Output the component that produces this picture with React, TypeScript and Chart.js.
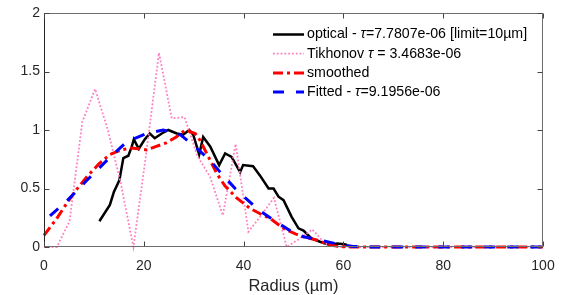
import React, { useEffect, useRef } from "react";
import { Chart, registerables } from "chart.js";

Chart.register(...registerables);

// ---------- data ----------
const opticalR = [11.1, 13.2, 14.0, 15.1, 15.9, 16.9, 17.6, 18.0, 19.0, 20.2, 21.2, 22.2, 23.6, 24.9, 26.6, 27.9, 29.1, 29.9, 31.1, 31.9, 33.3, 35.1, 36.3, 37.6, 39.3, 39.9, 41.9, 43.3, 45.0, 46.0, 47.0, 48.0, 49.6, 51.0, 52.0, 53.6, 55.3, 57.3, 58.7, 59.7, 60.7];
const opticalV = [0.22, 0.36, 0.47, 0.57, 0.76, 0.78, 0.86, 0.92, 0.84, 0.92, 0.97, 0.93, 0.97, 1.0, 0.97, 0.96, 1.0, 0.96, 0.79, 0.94, 0.86, 0.7, 0.8, 0.77, 0.64, 0.7, 0.69, 0.61, 0.5, 0.5, 0.43, 0.4, 0.26, 0.16, 0.14, 0.074, 0.045, 0.017, 0.03, 0.026, 0.02];

const tikhonovR = [0, 2.56, 5.12, 7.68, 10.24, 12.8, 15.36, 17.92, 20.48, 23.04, 25.6, 28.16, 30.72, 33.28, 35.84, 38.4, 40.96, 43.52, 46.08, 48.64, 51.2, 53.76, 56.32, 58.88, 100];
const tikhonovV = [0, 0, 0.22, 1.07, 1.35, 1.0, 0.55, 0, 0.8, 1.66, 1.1, 1.11, 0.78, 0.6, 0.27, 0.88, 0.13, 0.27, 0.42, 0, 0.07, 0.15, 0.03, 0, 0];

const smoothedR = [0, 2.5, 4.5, 6.5, 8.6, 11, 13.2, 15.5, 17.6, 20.6, 22.5, 24.5, 26.5, 28.3, 30.3, 31.3, 32.6, 34.6, 36.3, 38.6, 41.3, 43.5, 45.3, 47, 48.6, 50.5, 52, 54.6, 57.3, 59, 61, 100];
const smoothedV = [0.1, 0.24, 0.37, 0.49, 0.6, 0.71, 0.79, 0.83, 0.845, 0.83, 0.86, 0.89, 0.94, 1.0, 0.97, 0.91, 0.8, 0.63, 0.52, 0.42, 0.33, 0.28, 0.245, 0.19, 0.145, 0.11, 0.088, 0.06, 0.017, 0.005, 0, 0];

const fittedR = [1.2, 4.5, 8.6, 12.6, 16.6, 20.6, 23.9, 27.3, 29.9, 33.3, 35.3, 38.3, 42.9, 46, 49.3, 52, 55.3, 58.7, 62, 66, 100];
const fittedV = [0.265, 0.39, 0.57, 0.74, 0.9, 0.97, 1.0, 0.96, 0.87, 0.74, 0.64, 0.5, 0.32, 0.23, 0.14, 0.088, 0.06, 0.026, 0.005, 0, 0];

const xTicks = [0, 20, 40, 60, 80, 100];
const yTicks = [0, 0.5, 1, 1.5, 2];
const xTitle = "Radius (µm)";
const seriesLabels = [
  "optical - τ=7.7807e-06 [limit=10µm]",
  "Tikhonov τ = 3.4683e-06",
  "smoothed",
  "Fitted - τ=9.1956e-06",
];

const FONT = "'Liberation Sans', Arial, Helvetica, sans-serif";

function pts(r: number[], v: number[]) {
  return r.map((x, i) => ({ x, y: v[i] }));
}

export default function App() {
  const ref = useRef<HTMLCanvasElement>(null);

  useEffect(() => {
    const canvas = ref.current;
    if (!canvas) return;

    const boxPlugin = {
      id: "boxTicks",
      afterDatasetsDraw(chart: any) {
        const { ctx, chartArea } = chart;
        const xs = chart.scales.x;
        const ys = chart.scales.y;
        const L = Math.round(chartArea.left) + 0.5;
        const R = Math.round(chartArea.right) - 0.5;
        const T = Math.round(chartArea.top) + 0.5;
        const B = Math.round(chartArea.bottom) - 0.5;
        ctx.save();
        ctx.setLineDash([]);
        ctx.lineWidth = 1;
        ctx.strokeStyle = "#6e6e6e";
        ctx.beginPath();
        ctx.moveTo(L, T);
        ctx.lineTo(R, T);
        ctx.lineTo(R, B);
        ctx.lineTo(L, B);
        ctx.stroke();
        ctx.strokeStyle = "#262626";
        ctx.beginPath();
        ctx.moveTo(L, T);
        ctx.lineTo(L, B);
        ctx.stroke();
        const tl = 5;
        ctx.strokeStyle = "#444";
        ctx.beginPath();
        xTicks.forEach((t) => {
          const px = Math.round(xs.getPixelForValue(t)) + 0.5;
          ctx.moveTo(px, B);
          ctx.lineTo(px, B - tl);
          ctx.moveTo(px, T);
          ctx.lineTo(px, T + tl);
        });
        yTicks.forEach((t) => {
          const py = Math.round(ys.getPixelForValue(t)) + 0.5;
          ctx.moveTo(L, py);
          ctx.lineTo(L + tl, py);
          ctx.moveTo(R, py);
          ctx.lineTo(R - tl, py);
        });
        ctx.stroke();

        // legend
        const lx0 = 273;
        const lx1 = 304;
        const tx = 307;
        const y0 = 34.5;
        const dy = 19.2;
        chart.data.datasets.forEach((ds: any, i: number) => {
          const y = y0 + i * dy;
          ctx.save();
          ctx.strokeStyle = ds.borderColor;
          ctx.lineWidth = ds.borderWidth;
          ctx.setLineDash(ds.borderDash || []);
          ctx.beginPath();
          ctx.moveTo(lx0, y);
          ctx.lineTo(lx1, y);
          ctx.stroke();
          ctx.restore();
          ctx.fillStyle = "#000";
          ctx.textBaseline = "middle";
          ctx.textAlign = "left";
          const parts = String(seriesLabels[i]).split("τ");
          let x = tx;
          parts.forEach((p, k) => {
            if (k > 0) {
              ctx.font = `italic 14.2px ${FONT}`;
              ctx.fillText("τ", x, y);
              x += ctx.measureText("τ").width;
            }
            ctx.font = `14.2px ${FONT}`;
            ctx.fillText(p, x, y);
            x += ctx.measureText(p).width;
          });
        });
        ctx.restore();
      },
    };

    const chart = new Chart(canvas, {
      type: "line",
      data: {
        datasets: [
          {
            label: seriesLabels[0],
            data: pts(opticalR, opticalV),
            borderColor: "#000000",
            borderWidth: 2.5,
            borderDash: [],
            pointRadius: 0,
            tension: 0,
            clip: false,
            order: 4,
          },
          {
            label: seriesLabels[1],
            data: pts(tikhonovR, tikhonovV),
            borderColor: "#ff80c0",
            borderWidth: 1.8,
            borderDash: [1.8, 2],
            pointRadius: 0,
            tension: 0,
            clip: false,
            order: 3,
          },
          {
            label: seriesLabels[2],
            data: pts(smoothedR, smoothedV),
            borderColor: "#ff0000",
            borderWidth: 3,
            borderDash: [10, 4, 3, 4],
            pointRadius: 0,
            tension: 0,
            clip: false,
            order: 2,
          },
          {
            label: seriesLabels[3],
            data: pts(fittedR, fittedV),
            borderColor: "#0000ff",
            borderWidth: 3,
            borderDash: [11, 12],
            pointRadius: 0,
            tension: 0,
            clip: false,
            order: 1,
          },
        ],
      },
      options: {
        responsive: false,
        animation: false,
        maintainAspectRatio: false,
        layout: { padding: { top: 13, right: 24, left: 0, bottom: 0 } },
        plugins: {
          legend: { display: false },
          tooltip: { enabled: false },
        },
        scales: {
          x: {
            type: "linear",
            min: 0,
            max: 100,
            afterBuildTicks: (s: any) => {
              s.ticks = xTicks.map((v) => ({ value: v }));
            },
            afterFit: (s: any) => {
              s.height = 48;
            },
            grid: { display: false, drawTicks: false },
            border: { display: false },
            ticks: {
              padding: 11,
              color: "#262626",
              font: { family: FONT, size: 14 },
              maxRotation: 0,
              callback: (v: any) => String(v),
            },
            title: {
              display: true,
              text: xTitle,
              color: "#262626",
              font: { family: FONT, size: 16.5, lineHeight: 1 },
              padding: { top: 0, bottom: 0 },
            },
          },
          y: {
            type: "linear",
            min: 0,
            max: 2,
            afterBuildTicks: (s: any) => {
              s.ticks = yTicks.map((v) => ({ value: v }));
            },
            afterFit: (s: any) => {
              s.width = 44;
            },
            grid: { display: false, drawTicks: false },
            border: { display: false },
            ticks: {
              padding: 4,
              color: "#262626",
              font: { family: FONT, size: 14 },
              callback: (v: any) => String(v),
            },
          },
        },
      },
      plugins: [boxPlugin],
    });

    return () => chart.destroy();
  }, []);

  return (
    <div style={{ position: "fixed", left: 0, top: 0, width: 567, height: 295, background: "#fff" }}>
      <canvas ref={ref} width={567} height={295} style={{ width: 567, height: 295, display: "block" }} />
    </div>
  );
}
